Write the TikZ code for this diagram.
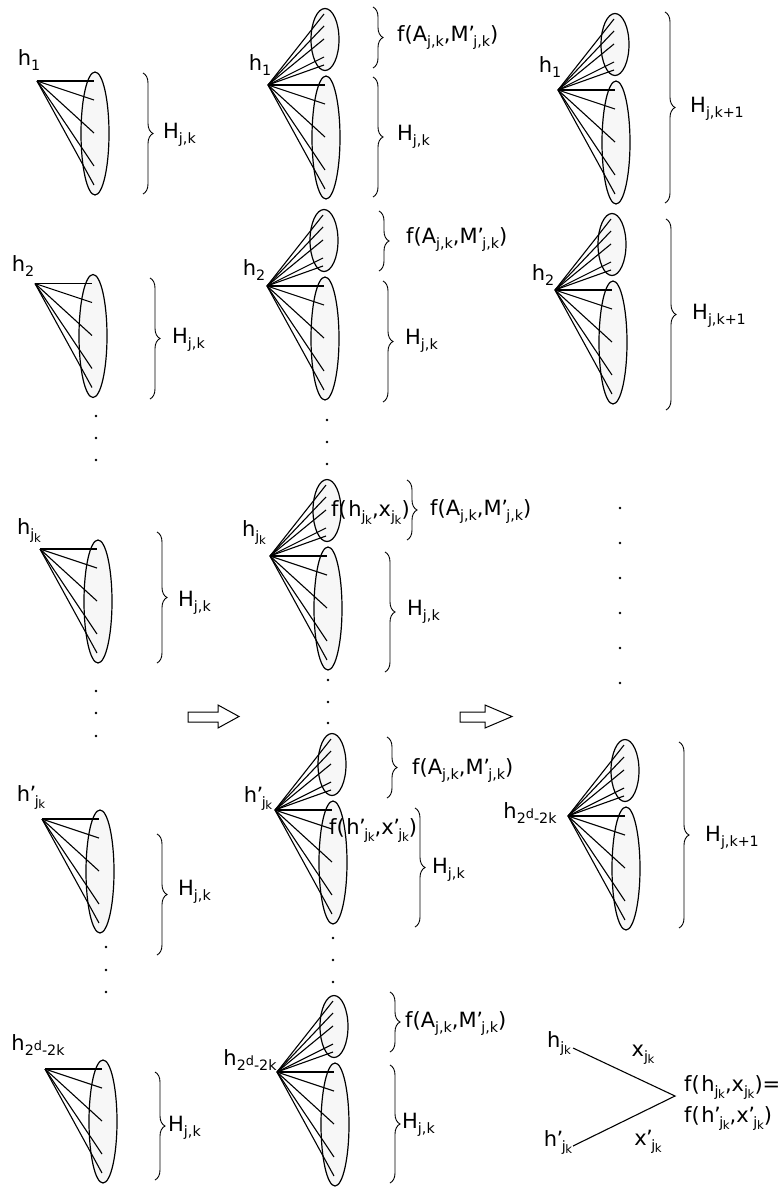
\documentclass[tikz,border=0pt]{standalone}
\usepackage{fontspec}
\setmainfont{DejaVu Sans}
\usepackage{graphicx}
\usetikzlibrary{calc,decorations.pathreplacing}
\definecolor{ellfill}{HTML}{F7F7F7}
\newcommand{\lo}[1]{\raisebox{-5pt}{\scalebox{0.68}{#1}}}
\newcommand{\pr}{\kern-0.5pt'\kern-1.5pt}
\newcommand{\jk}{\lo{j\kern-0.5pt\raisebox{-3pt}{\scalebox{0.82}{k}}}}
\newcommand{\hjk}{h\jk}
\newcommand{\hpjk}{h\pr\jk}
\newcommand{\xjk}{x\jk}
\newcommand{\xpjk}{x\pr\jk}
\newcommand{\hlast}{h\lo{2\raisebox{8pt}{\scalebox{0.9}{d}}-2k}}
\newcommand{\fAM}{f(A\lo{j,k},M\pr\lo{j,k})}
\newcommand{\Hjk}{H\lo{j,k}}
\newcommand{\Hjkk}{H\lo{j,k+1}}
\newcommand{\fo}{f(\kern1.5pt}
\newcommand{\conebig}[3]{%
  \coordinate (#1) at (#2,#3);
  \draw[ell] ($(#1)+(58,52.5)$) ellipse [x radius=14pt, y radius=61.5pt];
  \foreach \dy in {0,19,52,85,104}{\draw[ray] (#1) -- ++(57,\dy);}
}
\newcommand{\conesmall}[1]{%
  \draw[ell] ($(#1)+(57,-45.5)$) ellipse [x radius=14pt, y radius=31pt];
  \foreach \dy in {-71,-59,-46,-28,-20}{\draw[ray] (#1) -- ++(56,\dy);}
}
\newcommand{\bracer}[3]{%
  \draw[brc] (#1,#2) -- (#1,#3);
}
\tikzset{
  ell/.style={draw=black, fill=ellfill, line width=1.2pt},
  ray/.style={draw=black, line width=1.1pt},
  brc/.style={draw=black, line width=0.9pt, decorate, decoration={brace, amplitude=10pt}},
  lab/.style={inner sep=0pt, font=\fontsize{21}{25}\selectfont},
  dotm/.style={fill=black},
  blockarrow/.style={draw=black, line width=1pt, fill=white},
}
\begin{document}
\begin{tikzpicture}[x=1pt, y=-1pt]
\useasboundingbox (0,0) rectangle (781,1188);

% ---------------- left column ----------------
\conebig{L1}{37}{81}
\node[lab] (L1h) at (29,60) {h\lo{1}};
\bracer{143}{73}{194}
\node[lab, anchor=west] (L1H) at (163,135) {\Hjk};

\conebig{L2}{35}{283.5}
\node[lab] (L2h) at (23,266) {h\lo{2}};
\bracer{150}{278}{399}
\node[lab, anchor=west] (L2H) at (172,340) {\Hjk};

\conebig{L3}{40}{549}
\node[lab] (L3h) at (29,531) {\hjk};
\bracer{157}{532}{663}
\node[lab, anchor=west] (L3H) at (178,603) {\Hjk};

\conebig{L4}{42}{819}
\node[lab] (L4h) at (31,797) {\hpjk};
\bracer{157}{834}{955}
\node[lab, anchor=west] (L4H) at (178,892) {\Hjk};

\conebig{L5}{45}{1069}
\node[lab] (L5h) at (38,1045) {\hlast};
\bracer{155}{1072}{1180}
\node[lab, anchor=west] (L5H) at (168,1128) {\Hjk};

\foreach \y in {416,438,460,691,713,736}{\fill[dotm] (96,\y) circle (1.3pt);}
\foreach \y in {947,970,992}{\fill[dotm] (106,\y) circle (1.3pt);}

% ---------------- middle column ----------------
\conebig{M1}{268}{85}\conesmall{M1}
\node[lab] (M1h) at (260,65) {h\lo{1}};
\bracer{373}{7}{68}
\node[lab, anchor=west] (M1f) at (397,38) {\fAM};
\bracer{373}{77}{197}
\node[lab, anchor=west] (M1H) at (397,137) {\Hjk};

\conebig{M2}{267}{286}\conesmall{M2}
\node[lab] (M2h) at (254,270) {h\lo{2}};
\bracer{379}{211}{271}
\node[lab, anchor=west] (M2f) at (406,240) {\fAM};
\bracer{383}{281}{402}
\node[lab, anchor=west] (M2H) at (405,341) {\Hjk};

\conebig{M3}{270}{556}\conesmall{M3}
\node[lab] (M3h) at (254,533) {\hjk};
\node[lab, anchor=west] (M3x) at (331,513) {\fo\hjk,\xjk)};
\bracer{407}{480}{540}
\node[lab, anchor=west] (M3f) at (430,512) {\fAM};
\bracer{385}{552}{672}
\node[lab, anchor=west] (M3H) at (407,612) {\Hjk};

\conebig{M4}{275}{810}\conesmall{M4}
\node[lab] (M4h) at (258,798) {\hpjk};
\node[lab, anchor=west] (M4x) at (329,830) {\fo\hpjk,\xpjk)};
\bracer{387}{737}{798}
\node[lab, anchor=west] (M4f) at (412,770) {\fAM};
\bracer{415}{808}{927}
\node[lab, anchor=west] (M4H) at (432,870) {\Hjk};

\conebig{M5}{277}{1072}\conesmall{M5}
\node[lab] (M5h) at (250,1060) {\hlast};
\bracer{390}{992}{1052}
\node[lab, anchor=west] (M5f) at (405,1023) {\fAM};
\bracer{390}{1065}{1183}
\node[lab, anchor=west] (M5H) at (402,1125) {\Hjk};

\foreach \y in {420,442,464}{\fill[dotm] (327,\y) circle (1.3pt);}
\foreach \y in {680,702,723}{\fill[dotm] (328,\y) circle (1.3pt);}
\foreach \y in {938,960,982}{\fill[dotm] (333,\y) circle (1.3pt);}

% ---------------- right column ----------------
\conebig{R1}{558}{90}\conesmall{R1}
\node[lab] (R1h) at (550,67) {h\lo{1}};
\bracer{665}{12}{203}
\node[lab, anchor=west] (R1H) at (690,109) {\Hjkk};

\conebig{R2}{555}{290}\conesmall{R2}
\node[lab] (R2h) at (543,275) {h\lo{2}};
\bracer{666}{219}{410}
\node[lab, anchor=west] (R2H) at (692,316) {\Hjkk};

\conebig{R3}{568}{816}\conesmall{R3}
\node[lab] (R3h) at (530,813) {\hlast};
\bracer{679}{742}{928}
\node[lab, anchor=west] (R3H) at (705,838) {\Hjkk};

\foreach \y in {508,543,578,613,648,683}{\fill[dotm] (620,\y) circle (1.3pt);}

% ---------------- block arrows ----------------
\draw[blockarrow] (188,712) -- (218,712) -- (218,705) -- (239,716.5) -- (218,728) -- (218,722) -- (188,722) -- cycle;
\draw[blockarrow] (460,712) -- (485,712) -- (485,705) -- (512,716.5) -- (485,728) -- (485,722) -- (460,722) -- cycle;

% ---------------- bottom-right collision ----------------
\node[lab] (Bh) at (559,1043) {\hjk};
\node[lab] (Bhp) at (558,1142) {\hpjk};
\coordinate (Ba) at (573,1048);
\coordinate (Bb) at (573,1146);
\coordinate (Bv) at (675,1096);
\draw[ray] (Ba) -- (Bv) -- (Bb);
\node[lab] (Bx) at (643,1055) {\xjk};
\node[lab] (Bxp) at (648,1142) {\xpjk};
\node[lab, anchor=west] (Be1) at (684,1087) {\fo\hjk,\xjk)=};
\node[lab, anchor=west] (Be2) at (684,1118) {\fo\hpjk,\xpjk)};
\end{tikzpicture}
\end{document}
